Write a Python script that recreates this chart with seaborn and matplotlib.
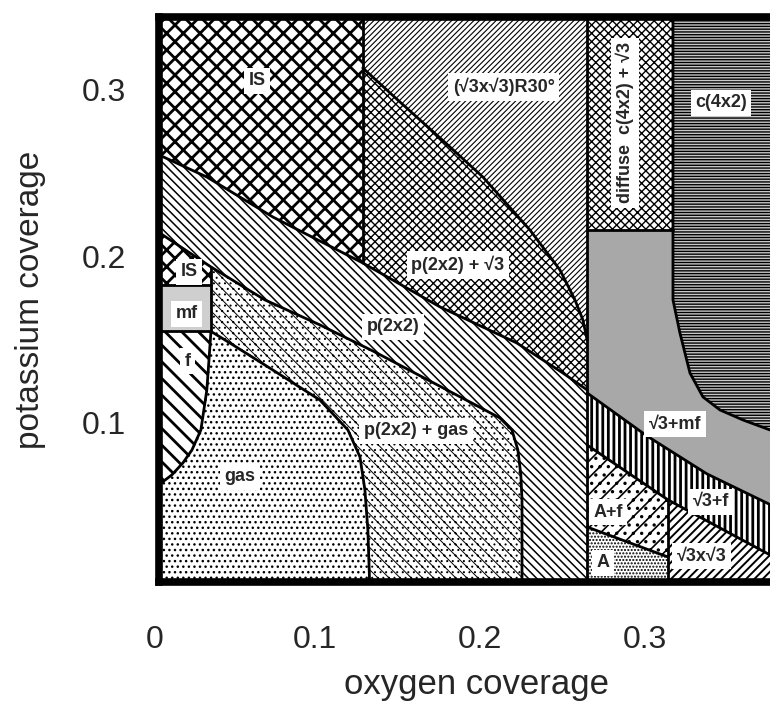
import matplotlib
matplotlib.use('Agg')
import matplotlib as mpl
import matplotlib.pyplot as plt
import seaborn as sns
import numpy as np

sns.set_style('white')
plt.rcParams['font.family'] = ['Liberation Sans', 'DejaVu Sans']


# Axis range and ticks (oxygen / potassium coverage)
x_lim = (0.0058, 0.3758)
y_lim = (0.0045, 0.3435)
x_ticks = [0.1, 0.2, 0.3]
y_ticks = [0.1, 0.2, 0.3]
tick_labels = ['0.1', '0.2', '0.3']

# straight phase borders
x_is = 0.129        # IS | (√3x√3)R30°
x_mid = 0.265       # left block | right block
x_c42 = 0.317       # diffuse | c(4x2)
x_a = 0.314         # A, A+f | √3x√3
x_small = 0.037     # small IS / mf column
y_diffuse = 0.216
y_is_small = 0.183
y_mf = 0.155

# curved borders
bu_x = [0.0, 0.0345, 0.0745, 0.129, 0.1758, 0.2224, 0.2503, 0.265]       # top of p(2x2) band
bu_y = [0.2635, 0.2477, 0.2237, 0.1961, 0.1697, 0.1480, 0.1300, 0.1198]
bl_x = [0.0, 0.037, 0.0697, 0.1030, 0.1364, 0.1697, 0.1939, 0.2121, 0.2194, 0.2230, 0.2248, 0.2255, 0.2255]
bl_y = [0.218, 0.1937, 0.1739, 0.1589, 0.1426, 0.1252, 0.1126, 0.1030, 0.0958, 0.0838, 0.0688, 0.0538, 0.0]
g_x = [0.037, 0.0485, 0.0745, 0.1030, 0.1200, 0.1273, 0.1303, 0.1321, 0.1333]   # gas border
g_y = [0.155, 0.1480, 0.1318, 0.1138, 0.0958, 0.0796, 0.0598, 0.0357, 0.0]
f_x = [0.037, 0.0358, 0.0345, 0.0309, 0.0255, 0.0200, 0.0133, 0.0061, 0.0]   # f border
f_y = [0.155, 0.1378, 0.1198, 0.0958, 0.0838, 0.0760, 0.0688, 0.0634, 0.062]
rc_x = [0.129, 0.1515, 0.1758, 0.2018, 0.2303, 0.2485, 0.2576, 0.2624, 0.265]  # R30° border
rc_y = [0.3132, 0.2928, 0.2712, 0.2477, 0.2159, 0.1919, 0.1739, 0.1619, 0.1498]
c_x = [0.317, 0.3212, 0.3273, 0.3352, 0.3455, 0.3594, 0.3758, 0.38]       # c(4x2) border
c_y = [0.1739, 0.1541, 0.1300, 0.1156, 0.1078, 0.1018, 0.0958, 0.094]
s1_x = [0.265, 0.3012, 0.3376, 0.38]     # √3+mf | √3+f
s1_y = [0.118, 0.0922, 0.0694, 0.049]
s2_x = [0.265, 0.314, 0.38]              # √3+f | A+f, √3x√3
s2_y = [0.0867, 0.0538, 0.0185]
s3_x = [0.265, 0.314]                    # A+f | A
s3_y = [0.0375, 0.0195]

# labels
label_text = ['IS', '(√3x√3)R30°', 'diffuse  c(4x2) + √3', 'c(4x2)', 'p(2x2) + √3',
              'IS', 'mf', 'f', 'p(2x2)', 'p(2x2) + gas', 'gas',
              '√3+mf', '√3+f', 'A+f', 'A', '√3x√3']
label_x = [0.0648, 0.2145, 0.2879, 0.3461, 0.1867, 0.0236, 0.0224, 0.0230, 0.1473,
           0.1612, 0.0545, 0.3182, 0.3400, 0.2776, 0.2745, 0.3345]
label_y = [0.3054, 0.3018, 0.2802, 0.2922, 0.1949, 0.1907, 0.1655, 0.1372, 0.1577,
           0.0952, 0.0676, 0.0994, 0.0526, 0.0465, 0.0159, 0.0201]
label_rot = [0, 0, 90, 0, 0, 0, 0, 0, 0, 0, 0, 0, 0, 0, 0, 0]


# Build region outlines
XL, XR, YB, YT = 0.0, 0.38, 0.0, 0.35


def poly(*parts):
    xs = np.concatenate([np.asarray(p[0], float) for p in parts])
    ys = np.concatenate([np.asarray(p[1], float) for p in parts])
    return xs, ys


def rev(x, y):
    return x[::-1], y[::-1]


bu = (bu_x, bu_y)
bl = (bl_x, bl_y)
gc = (g_x, g_y)
fc_ = (f_x, f_y)
rc = (rc_x, rc_y)
cc = (c_x, c_y)
s1 = (s1_x, s1_y)
s2 = (s2_x, s2_y)
s3 = (s3_x, s3_y)

BS = '\\'
regions = [
    # outline, facecolor, hatch, hatch linewidth
    (poly(([XL, x_is], [YT, YT]), rev(bu_x[:4], bu_y[:4])), 'white', 'xx', 2.0),          # IS
    (poly(([x_is, x_mid], [YT, YT]), rev(*rc)), 'white', '//////', 0.8),                  # R30
    (poly(rc, rev(bu_x[3:], bu_y[3:])), 'white', 'xxxx', 1.0),                            # p(2x2)+√3
    (poly(bu, ([x_mid], [YB]), rev(*bl)), 'white', BS * 4, 1.1),                          # p(2x2)
    (poly((bl_x[:2], bl_y[:2]), ([x_small, XL], [y_is_small, y_is_small])), 'white', 'xx', 2.0),
    (([XL, x_small, x_small, XL], [y_is_small, y_is_small, y_mf, y_mf]), '#cfcfcf', None, 1.0),
    (poly(([XL], [y_mf]), fc_), 'white', BS * 2, 2.0),                                    # f
    (poly(([XL], [YB]), rev(*fc_), gc), 'white', '...', 1.0),                             # gas
    (poly(gc, rev(bl_x[1:], bl_y[1:])), 'white', BS * 3 + '...', 0.7),                    # p(2x2)+gas
    (([x_mid, x_c42, x_c42, x_mid], [YT, YT, y_diffuse, y_diffuse]), 'white', 'xxxx', 1.0),
    (poly(([x_c42], [YT]), cc, ([XR], [YT])), '#c8c8c8', '------', 1.0),                  # c(4x2)
    (poly(([x_mid, x_c42], [y_diffuse, y_diffuse]), cc, rev(*s1)), '#a8a8a8', None, 1.0),
    (poly(s1, rev(*s2)), 'white', '|||', 2.0),                                            # √3+f
    (poly((s2_x[:2], s2_y[:2]), rev(*s3)), 'white', '//..', 1.2),                         # A+f
    (poly(s3, ([x_a, x_mid], [YB, YB])), 'white', '.....', 1.0),                          # A
    (poly((s2_x[1:], s2_y[1:]), ([XR, x_a], [YB, YB])), 'white', '////', 1.4),            # √3x√3
]

borders = [
    bu, bl, gc, fc_, rc, s1, s2, s3,
    poly(([x_c42], [YT]), cc),
    ([x_is, x_is], [YT, bu_y[3]]),
    ([x_mid, x_mid], [YT, YB]),
    ([x_mid, x_c42], [y_diffuse, y_diffuse]),
    ([x_a, x_a], [s2_y[1], YB]),
    ([XL, x_small], [y_is_small, y_is_small]),
    ([XL, x_small], [y_mf, y_mf]),
    ([x_small, x_small], [bl_y[1], y_mf]),
]


# Plot
fig = plt.figure(figsize=(7.7, 7.05), dpi=100)
ax = fig.add_axes([0.2071, 0.1745, 0.7929, 0.8007])

for (xs, ys), face, hatch, hlw in regions:
    with mpl.rc_context({'hatch.linewidth': hlw}):
        p = ax.fill(xs, ys, facecolor=face, edgecolor='black', linewidth=0,
                    hatch=hatch, zorder=1)[0]
    if hasattr(p, 'set_hatch_linewidth'):
        p.set_hatch_linewidth(hlw)

for bx, by in borders:
    sns.lineplot(x=np.asarray(bx, float), y=np.asarray(by, float), sort=False,
                 estimator=None, color='black', lw=2.0, ax=ax, zorder=2)

for s, lx, ly, rot in zip(label_text, label_x, label_y, label_rot):
    ax.text(lx, ly, s, ha='center', va='center', rotation=rot, fontsize=13,
            fontweight='bold', zorder=5,
            bbox=dict(boxstyle='square,pad=0.25', fc='white', ec='none'))

ax.set_xlim(*x_lim)
ax.set_ylim(*y_lim)
ax.set_xticks(x_ticks)
ax.set_xticklabels(tick_labels)
ax.set_yticks(y_ticks)
ax.set_yticklabels(tick_labels)
ax.tick_params(axis='x', direction='in', length=13, width=1.6, pad=31, labelsize=23)
ax.tick_params(axis='y', direction='in', length=13, width=1.6, pad=24, labelsize=23)
ax.annotate('0', xy=(0.003, 0.0), xycoords=ax.get_xaxis_transform(), xytext=(0, -31),
            textcoords='offset points', ha='center', va='top', fontsize=23,
            annotation_clip=False)

for side in ['left', 'top', 'bottom']:
    ax.spines[side].set_linewidth(5.5)
    ax.spines[side].set_color('black')
    ax.spines[side].set_zorder(10)
ax.spines['right'].set_visible(False)

ax.set_xlabel('oxygen coverage', fontsize=25)
ax.set_ylabel('potassium coverage', fontsize=24)
ax.xaxis.set_label_coords(0.52, -0.152)
ax.yaxis.set_label_coords(-0.186, 0.5)

fig.savefig('out.png', dpi=100)
